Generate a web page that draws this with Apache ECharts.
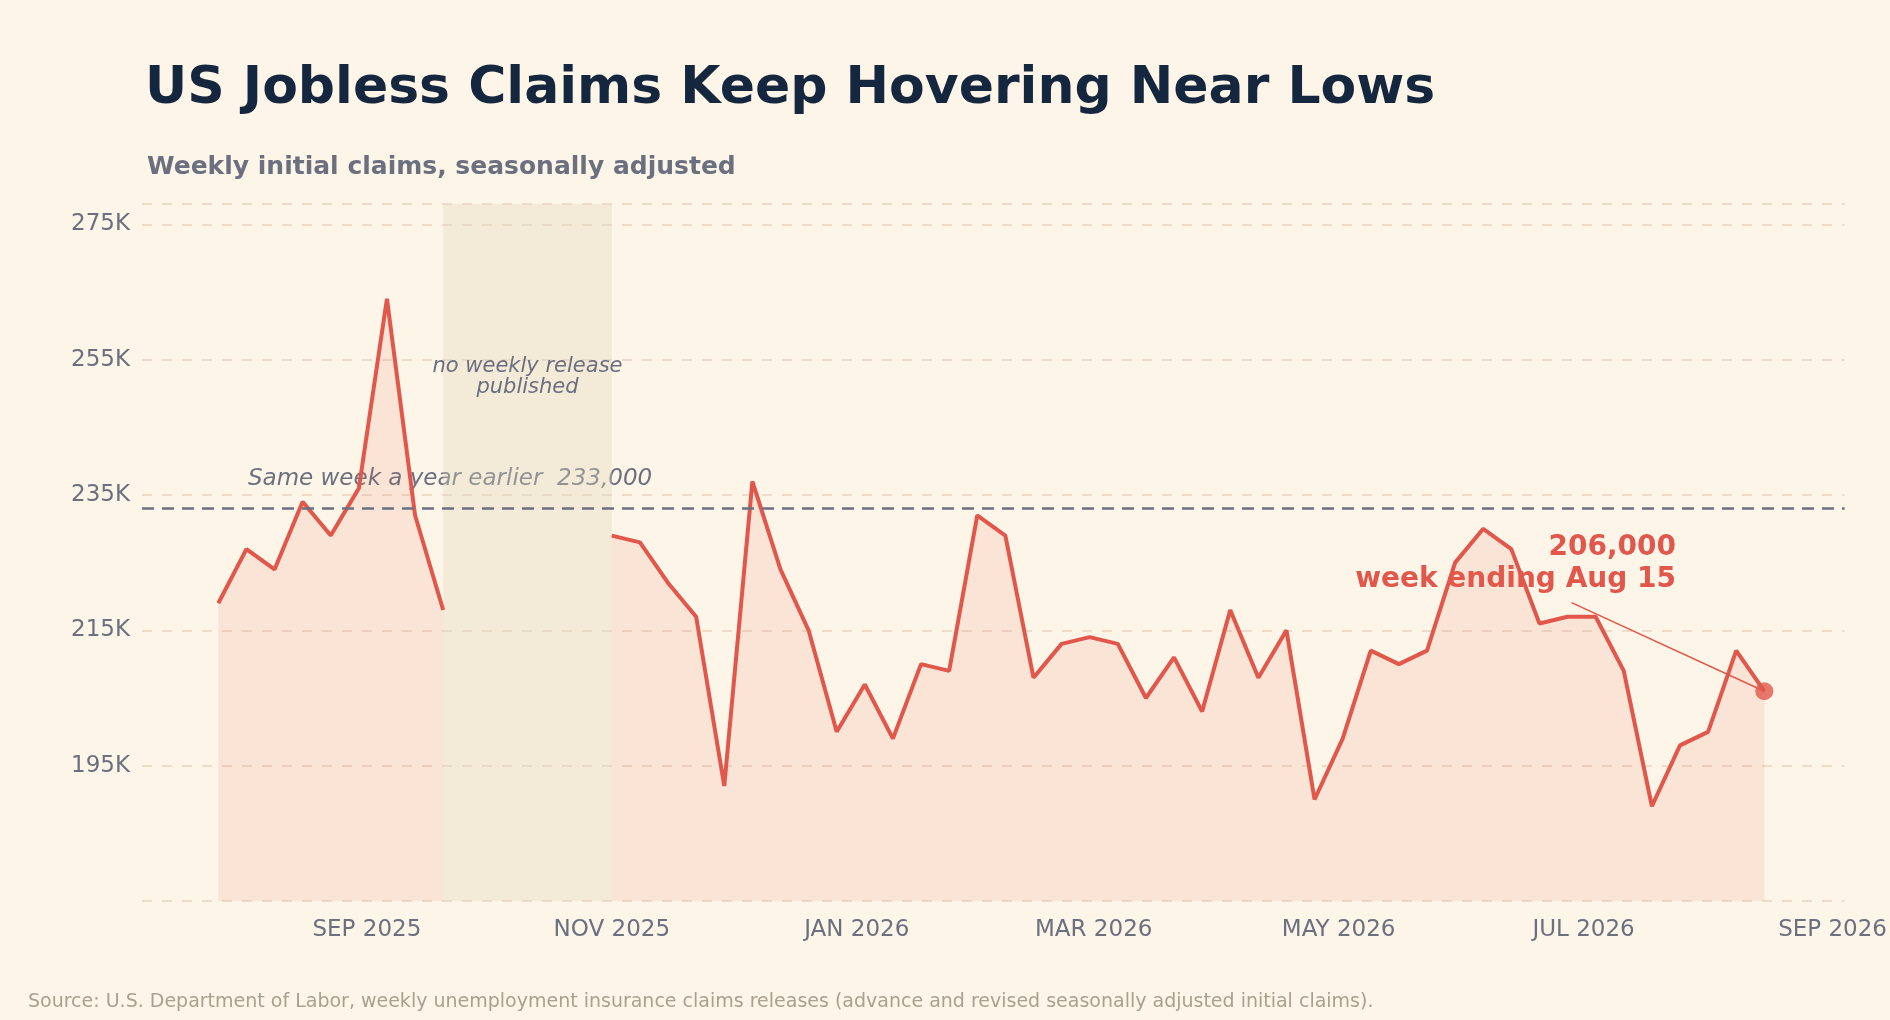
<!DOCTYPE html>
<html><head><meta charset="utf-8">
<script src="https://cdn.jsdelivr.net/npm/echarts@6/dist/echarts.min.js"></script>
<style>html,body{margin:0;padding:0;background:#fdf5e8}#c{width:1890px;height:1020px}</style>
</head><body><div id="c"></div>
<script>
const startDate = '2025-07-26';
const claims = [219000,227000,224000,234000,229000,236000,264000,232000,218000,
  null,null,null,null,null,
  229000,228000,222000,217000,192000,237000,224000,215000,200000,207000,199000,210000,209000,232000,229000,
  208000,213000,214000,213000,205000,211000,203000,218000,208000,215000,190000,199000,212000,210000,212000,
  225000,230000,227000,216000,217000,217000,209000,189000,198000,200000,212000,206000];
const yearEarlier = 233000;
const gapRange = ['2025-09-20','2025-11-01'];
const labelMonths = [8,10,0,2,4,6];
const monthNames = ['JAN','FEB','MAR','APR','MAY','JUN','JUL','AUG','SEP','OCT','NOV','DEC'];
const annotStart = ['2026-06-28', 219100];

const DAY = 86400000;
const t0 = Date.parse(startDate + 'T00:00:00Z');
const pts = claims.map((v,i)=>[t0 + i*7*DAY, v]);
const last = pts[pts.length-1];
const font = 'DejaVu Sans';
const chart = echarts.init(document.getElementById('c'));
chart.setOption({
  backgroundColor:'#fdf5e8',
  textStyle:{fontFamily:font},
  title:[
    {text:'US Jobless Claims Keep Hovering Near Lows',left:140,top:58,textStyle:{fontFamily:font,fontSize:52,fontWeight:'bold',color:'#15263f'}},
    {text:'Weekly initial claims, seasonally adjusted',left:142,top:150,textStyle:{fontFamily:font,fontSize:25,fontWeight:'bold',color:'#6b7080'}},
    {text:'Source: U.S. Department of Labor, weekly unemployment insurance claims releases (advance and revised seasonally adjusted initial claims).',left:23,top:988,textStyle:{fontFamily:font,fontSize:19,fontWeight:'normal',color:'#a9a08e'}}
  ],
  grid:{left:142,right:28,top:204,bottom:119},
  xAxis:{type:'time',min:Date.parse('2025-07-07T00:00:00Z'),max:Date.parse('2026-09-04T00:00:00Z'),splitNumber:14,
    axisLine:{show:false},axisTick:{show:false},splitLine:{show:false},
    axisLabel:{fontSize:23,color:'#6b7080',margin:18,hideOverlap:false,
      formatter:function(v){const d=new Date(v);return (d.getUTCDate()===1&&labelMonths.includes(d.getUTCMonth()))?monthNames[d.getUTCMonth()]+' '+d.getUTCFullYear():'';}}},
  yAxis:{type:'value',min:175000,max:278000,interval:20000,
    axisLine:{show:false},axisTick:{show:false},
    axisLabel:{fontSize:23,color:'#6b7080',margin:12,showMinLabel:false,showMaxLabel:false,formatter:v=>(v/1000)+'K'},
    splitLine:{lineStyle:{color:'#ecdcc9',type:[10,10],width:2}}},
  series:[
    {type:'line',data:pts,symbol:'none',connectNulls:false,
     lineStyle:{color:'#e2574c',width:4},
     areaStyle:{color:'rgba(232,95,80,0.16)',origin:'start'},
     markArea:{silent:true,itemStyle:{color:'rgba(225,215,185,0.35)'},
       label:{show:true,position:'inside',formatter:'no weekly release\npublished',fontStyle:'italic',fontSize:21,color:'#6b7080',offset:[0,-175]},
       data:[[{xAxis:Date.parse(gapRange[0]+'T00:00:00Z'),yAxis:175000},{xAxis:Date.parse(gapRange[1]+'T00:00:00Z'),yAxis:278000}]]},
     markLine:{silent:true,symbol:'none',animation:false,data:[
       {yAxis:yearEarlier,lineStyle:{color:'#6b7080',type:[12,8],width:2.5},label:{show:false}},
       [{coord:[Date.parse(annotStart[0]+'T00:00:00Z'),annotStart[1]],lineStyle:{color:'#e2574c',type:'solid',width:1.5},label:{show:false}},{coord:last}]
     ]}},
    {type:'scatter',data:[last],symbolSize:18,itemStyle:{color:'#e2574c'},z:5}
  ],
  graphic:[
    {type:'text',left:248,top:468,style:{text:'Same week a year earlier  233,000',font:'italic 23px "DejaVu Sans"',fill:'#6b7080'}},
    {type:'text',right:214,top:534,style:{text:'206,000',font:'bold 28px "DejaVu Sans"',fill:'#e2574c',textAlign:'right'}},
    {type:'text',right:214,top:566,style:{text:'week ending Aug 15',font:'bold 28px "DejaVu Sans"',fill:'#e2574c',textAlign:'right'}}
  ]
});
</script></body></html>
